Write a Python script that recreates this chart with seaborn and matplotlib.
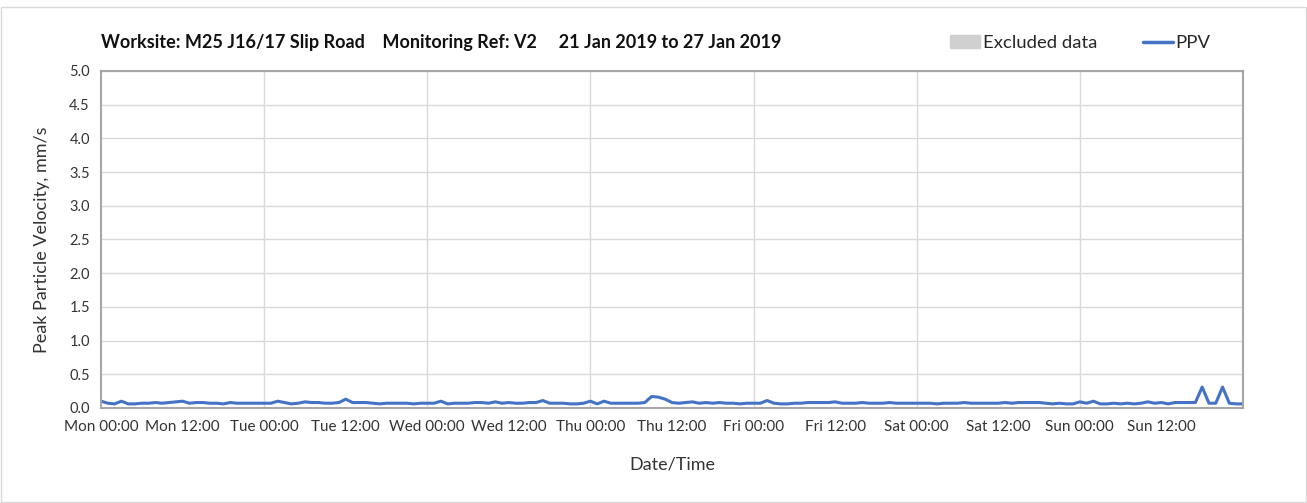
import matplotlib
matplotlib.use("Agg")
import matplotlib.pyplot as plt
import matplotlib.patches as mpatches
import numpy as np
import pandas as pd
import seaborn as sns

# hourly PPV readings, Mon 00:00 .. Sun 24:00
hours = list(range(0, 169))
ppv = [
    # Mon
    0.10, 0.07, 0.06, 0.10, 0.06, 0.06, 0.07, 0.07, 0.08, 0.07, 0.08, 0.09,
    0.10, 0.07, 0.08, 0.08, 0.07, 0.07, 0.06, 0.08, 0.07, 0.07, 0.07, 0.07,
    # Tue
    0.07, 0.07, 0.10, 0.08, 0.06, 0.07, 0.09, 0.08, 0.08, 0.07, 0.07, 0.08,
    0.13, 0.08, 0.08, 0.08, 0.07, 0.06, 0.07, 0.07, 0.07, 0.07, 0.06, 0.07,
    # Wed
    0.07, 0.07, 0.10, 0.06, 0.07, 0.07, 0.07, 0.08, 0.08, 0.07, 0.09, 0.07,
    0.08, 0.07, 0.07, 0.08, 0.08, 0.11, 0.07, 0.07, 0.07, 0.06, 0.06, 0.07,
    # Thu
    0.10, 0.06, 0.10, 0.07, 0.07, 0.07, 0.07, 0.07, 0.08, 0.17, 0.16, 0.13,
    0.08, 0.07, 0.08, 0.09, 0.07, 0.08, 0.07, 0.08, 0.07, 0.07, 0.06, 0.07,
    # Fri
    0.07, 0.07, 0.11, 0.07, 0.06, 0.06, 0.07, 0.07, 0.08, 0.08, 0.08, 0.08,
    0.09, 0.07, 0.07, 0.07, 0.08, 0.07, 0.07, 0.07, 0.08, 0.07, 0.07, 0.07,
    # Sat
    0.07, 0.07, 0.07, 0.06, 0.07, 0.07, 0.07, 0.08, 0.07, 0.07, 0.07, 0.07,
    0.07, 0.08, 0.07, 0.08, 0.08, 0.08, 0.08, 0.07, 0.06, 0.07, 0.06, 0.06,
    # Sun
    0.09, 0.07, 0.10, 0.06, 0.06, 0.07, 0.06, 0.07, 0.06, 0.07, 0.09, 0.07,
    0.08, 0.06, 0.08, 0.08, 0.08, 0.08, 0.31, 0.07, 0.07, 0.31, 0.07, 0.06,
    0.06,
]
tick_labels = ["Mon 00:00", "Mon 12:00", "Tue 00:00", "Tue 12:00", "Wed 00:00",
               "Wed 12:00", "Thu 00:00", "Thu 12:00", "Fri 00:00", "Fri 12:00",
               "Sat 00:00", "Sat 12:00", "Sun 00:00", "Sun 12:00"]

df = pd.DataFrame({"hour": hours, "PPV": ppv})

sns.set_style("white")
plt.rcParams['font.family'] = ['Lato', 'DejaVu Sans']

fig = plt.figure(figsize=(13.07, 5.03), dpi=100)
ax = fig.add_axes([0.0773, 0.189, 0.8737, 0.670])

line_col = "#4472C4"
sns.lineplot(data=df, x="hour", y="PPV", ax=ax, color=line_col, linewidth=2.2)

ax.set_xlim(0, 168)
ax.set_ylim(0, 5.0)
ax.set_xticks(np.arange(0, 168, 12))
ax.set_xticklabels(tick_labels, fontsize=11, color="#333333")
ax.set_yticks(np.arange(0, 5.01, 0.5))
ax.set_yticklabels([f"{v:.1f}" for v in np.arange(0, 5.01, 0.5)], fontsize=10.5, color="#333333")
ax.tick_params(axis="both", direction="out", length=4, width=1, color="#A6A6A6", pad=4)
ax.tick_params(axis="x", pad=5)

# grid: horizontal every 0.5, vertical at each midnight
ax.yaxis.grid(True, color="#D9D9D9", linewidth=1)
for d in range(24, 168, 24):
    ax.axvline(d, color="#D9D9D9", linewidth=1, zorder=0)
ax.set_axisbelow(True)

for s in ax.spines.values():
    s.set_color("#A6A6A6")
    s.set_linewidth(1.5)

ax.set_xlabel("Date/Time", fontsize=13, color="#333333", labelpad=16)
ax.set_ylabel("Peak Particle Velocity, mm/s", fontsize=13, color="#333333", labelpad=14)

fig.text(0.077, 0.916,
         "Worksite: M25 J16/17 Slip Road    Monitoring Ref: V2     21 Jan 2019 to 27 Jan 2019",
         fontsize=13, fontweight="bold", color="#111111", va="center")

handles = [mpatches.Patch(color="#D0D0D0", label="Excluded data"),
           plt.Line2D([], [], color=line_col, linewidth=2.5, label="PPV")]
fig.legend(handles=handles, loc="center right", bbox_to_anchor=(0.939, 0.914), ncol=2,
           frameon=False, fontsize=13.3, handlelength=1.6, handletextpad=0.15,
           columnspacing=2.5)

# outer border
fig.patches.append(mpatches.Rectangle((0.001, 0.001), 0.998, 0.985, transform=fig.transFigure,
                                      fill=False, edgecolor="#D9D9D9", linewidth=1))

fig.savefig("out.png", dpi=100)
